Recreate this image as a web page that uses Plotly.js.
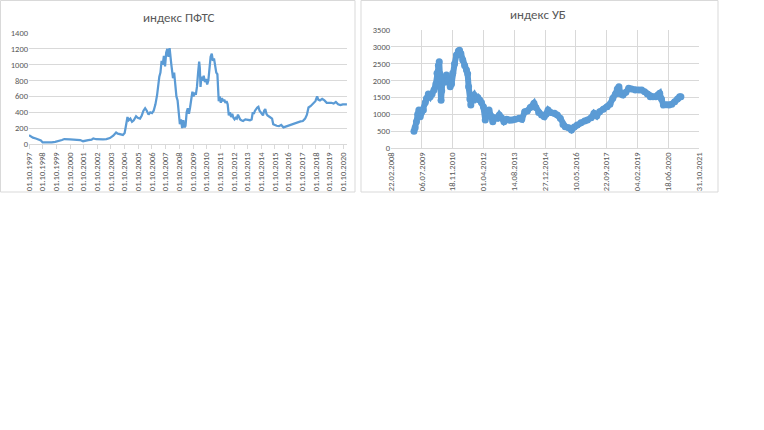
<!DOCTYPE html>
<html>
<head>
<meta charset="utf-8">
<script src="https://cdn.plot.ly/plotly-3.0.1.min.js"></script>
<style>
  html, body { margin: 0; padding: 0; background: #fff; }
  #chart { width: 764px; height: 430px; }
</style>
</head>
<body>
<div id="chart"></div>
<script>
// PFTS index (left panel) -------------------------------------------------------
const pftsDates = [
  '1997-10-01','1997-11-15','1998-01-15','1998-04-01','1998-06-15','1998-08-15','1998-10-01','1998-12-01',
  '1999-03-01','1999-06-01','1999-09-01','1999-12-01','2000-03-01','2000-05-01','2000-07-01','2000-10-01',
  '2001-01-01','2001-04-01','2001-07-01','2001-09-15','2001-11-01','2002-02-01','2002-05-01','2002-06-15',
  '2002-09-01','2002-12-01','2003-03-01','2003-06-01','2003-09-01','2003-12-01','2004-02-15','2004-04-01',
  '2004-06-01','2004-08-15','2004-10-01','2004-11-15','2004-12-15','2005-01-15','2005-03-01','2005-04-15',
  '2005-06-01','2005-08-01','2005-09-15','2005-11-15','2006-01-01','2006-02-15','2006-04-01','2006-05-15',
  '2006-07-01','2006-08-15','2006-10-01','2006-11-15','2007-01-01','2007-02-15','2007-03-15','2007-04-15',
  '2007-05-15','2007-06-15','2007-07-15','2007-08-15','2007-09-15','2007-10-15','2007-11-15','2007-12-15',
  '2008-01-15','2008-02-01','2008-03-01','2008-04-15','2008-05-15','2008-06-15','2008-07-15','2008-08-15',
  '2008-09-15','2008-10-15','2008-11-15','2008-12-15','2009-01-15','2009-02-15','2009-03-15','2009-04-15',
  '2009-05-15','2009-06-15','2009-07-15','2009-08-15','2009-09-15','2009-10-15','2009-11-15','2009-12-15',
  '2010-01-15','2010-02-15','2010-03-15','2010-04-01','2010-04-20','2010-05-15','2010-06-15','2010-07-15',
  '2010-08-15','2010-09-15','2010-10-15','2010-11-15','2010-12-15','2011-01-15','2011-02-15','2011-03-15',
  '2011-04-15','2011-05-15','2011-06-15','2011-07-15','2011-08-01','2011-08-20','2011-09-15','2011-10-15',
  '2011-11-15','2011-12-15','2012-01-15','2012-02-15','2012-03-15','2012-04-15','2012-05-15','2012-06-15',
  '2012-07-15','2012-08-15','2012-09-15','2012-10-15','2012-11-15','2012-12-15','2013-01-15','2013-02-15',
  '2013-03-15','2013-04-15','2013-06-01','2013-08-01','2013-10-01','2013-12-01','2014-01-15','2014-02-15',
  '2014-03-15','2014-04-15','2014-06-15','2014-07-15','2014-08-15','2014-09-15','2014-10-15','2014-11-15',
  '2014-12-15','2015-01-15','2015-02-15','2015-03-15','2015-05-15','2015-07-15','2015-08-15','2015-09-15',
  '2015-11-15','2016-01-15','2016-03-15','2016-05-15','2016-07-15','2016-09-15','2016-11-15','2017-02-15',
  '2017-05-15','2017-08-15','2017-10-15','2017-12-15','2018-02-01','2018-03-15','2018-05-15','2018-07-15',
  '2018-09-15','2018-11-01','2018-12-01','2019-01-15','2019-03-15','2019-05-15','2019-07-15','2019-09-15',
  '2019-11-15','2020-01-15','2020-03-15','2020-05-15','2020-07-15','2020-09-15','2020-11-15','2021-01-05'
];
const pftsValues = [
  110, 95, 80, 70, 55, 45, 20, 18,
  17, 20, 28, 35, 50, 62, 57, 58,
  55, 52, 50, 35, 42, 48, 55, 70,
  60, 55, 58, 62, 75, 105, 145, 130,
  125, 115, 140, 250, 340, 300, 320, 280,
  300, 350, 330, 320, 360, 420, 450, 420,
  370, 400, 390, 420, 500, 620, 750, 850,
  900, 1050, 1000, 1110, 980, 1150, 1200, 1100,
  1210, 1100, 1000, 830, 900, 750, 600, 550,
  400, 250, 310, 200, 300, 210, 230, 400,
  450, 380, 460, 550, 660, 600, 650, 620,
  720, 900, 1040, 960, 720, 850, 800, 860,
  780, 820, 750, 800, 1000, 1100, 1140, 1050,
  1080, 960, 900, 880, 700, 540, 600, 520,
  580, 540, 560, 520, 540, 500, 360, 400,
  340, 380, 330, 310, 330, 320, 370, 330,
  310, 300, 290, 310, 300, 300, 310, 400,
  380, 420, 460, 470, 420, 400, 380, 360,
  420, 440, 380, 360, 340, 320, 250, 240,
  230, 225, 240, 210, 220, 240, 250, 265,
  275, 285, 290, 320, 370, 460, 480, 510,
  540, 600, 560, 550, 570, 550, 520, 520,
  520, 510, 530, 500, 490, 500, 500, 500
];
const pftsTickDates = [
  '1997-10-01','1998-10-01','1999-10-01','2000-10-01','2001-10-01','2002-10-01','2003-10-01','2004-10-01',
  '2005-10-01','2006-10-01','2007-10-01','2008-10-01','2009-10-01','2010-10-01','2011-10-01','2012-10-01',
  '2013-10-01','2014-10-01','2015-10-01','2016-10-01','2017-10-01','2018-10-01','2019-10-01','2020-10-01'
];
const pftsTickLabels = [
  '01.10.1997','01.10.1998','01.10.1999','01.10.2000','01.10.2001','01.10.2002','01.10.2003','01.10.2004',
  '01.10.2005','01.10.2006','01.10.2007','01.10.2008','01.10.2009','01.10.2010','01.10.2011','01.10.2012',
  '01.10.2013','01.10.2014','01.10.2015','01.10.2016','01.10.2017','01.10.2018','01.10.2019','01.10.2020'
];

// UB index (right panel) --------------------------------------------------------
const ubDates = [
  '2009-03-01','2009-03-20','2009-04-10','2009-05-01','2009-05-20','2009-06-10','2009-07-01','2009-08-01',
  '2009-09-01','2009-09-20','2009-10-20','2009-11-20','2009-12-20','2010-01-20','2010-02-20','2010-03-10',
  '2010-04-01','2010-04-15','2010-04-25','2010-05-05','2010-05-15','2010-05-25','2010-06-10','2010-07-10',
  '2010-08-10','2010-09-10','2010-10-10','2010-11-01','2010-11-20','2010-12-20','2011-01-20','2011-02-20',
  '2011-03-10','2011-04-01','2011-05-01','2011-06-01','2011-07-01','2011-07-20','2011-08-05','2011-08-25',
  '2011-09-10','2011-10-01','2011-11-01','2011-12-01','2012-01-01','2012-02-01','2012-03-01','2012-04-01',
  '2012-05-01','2012-06-01','2012-07-01','2012-08-01','2012-09-01','2012-10-01','2012-11-15','2012-12-15',
  '2013-01-20','2013-03-01','2013-04-15','2013-06-01','2013-07-15','2013-09-01','2013-11-01','2013-12-15',
  '2014-02-01','2014-03-15','2014-05-01','2014-07-01','2014-08-01','2014-09-15','2014-11-01','2014-12-15',
  '2015-01-15','2015-02-15','2015-04-01','2015-06-01','2015-07-15','2015-09-01','2015-10-15','2015-11-20',
  '2016-01-15','2016-03-01','2016-04-15','2016-06-01','2016-08-01','2016-10-01','2016-11-15','2017-01-15',
  '2017-03-01','2017-04-15','2017-06-01','2017-08-01','2017-10-01','2017-11-15','2018-01-01','2018-02-15',
  '2018-03-15','2018-04-10','2018-05-10','2018-06-15','2018-08-01','2018-09-15','2018-11-01','2019-01-01',
  '2019-03-01','2019-04-15','2019-06-01','2019-07-15','2019-09-01','2019-10-15','2019-12-01','2020-01-01',
  '2020-02-01','2020-03-01','2020-04-01','2020-05-15','2020-07-01','2020-08-15','2020-10-01','2020-11-15',
  '2020-12-20','2021-01-10'
];
const ubValues = [
  500, 600, 780, 1000, 1130, 930, 1050, 1130,
  1350, 1470, 1600, 1520, 1600, 1720, 1900, 2215,
  2450, 2560, 2200, 1800, 1420, 1700, 2070, 1950,
  2165, 2000, 1820, 1900, 2215, 2500, 2760, 2880,
  2900, 2800, 2610, 2450, 2313, 2200, 1818, 1450,
  1275, 1500, 1572, 1450, 1500, 1424, 1350, 1226,
  830, 1050, 1127, 950, 780, 900, 880, 979,
  900, 780, 850, 820, 830, 850, 880, 850,
  1077, 1100, 1200, 1325, 1200, 1050, 980, 930,
  1000, 1127, 1050, 1030, 980, 880, 700, 633,
  600, 534, 620, 682, 750, 800, 830, 900,
  1028, 950, 1077, 1150, 1226, 1300, 1474, 1600,
  1750, 1818, 1600, 1572, 1650, 1770, 1750, 1720,
  1720, 1720, 1670, 1600, 1522, 1520, 1522, 1570,
  1622, 1450, 1275, 1280, 1275, 1300, 1374, 1450,
  1522, 1520
];
const ubTickDates = [
  '2008-02-22','2009-07-06','2010-11-18','2012-04-01','2013-08-14','2014-12-27',
  '2016-05-10','2017-09-22','2019-02-04','2020-06-18','2021-10-31'
];
const ubTickLabels = [
  '22.02.2008','06.07.2009','18.11.2010','01.04.2012','14.08.2013','27.12.2014',
  '10.05.2016','22.09.2017','04.02.2019','18.06.2020','31.10.2021'
];

const W = 764, H = 430;
const px = x => x / W;
const py = y => 1 - y / H;
const blue = '#5b9bd5';
const grid = '#d9d9d9';
const txt = '#595959';
const font = 'Calibri, Carlito, "Liberation Sans", "Open Sans", sans-serif';
const tickFont = { family: font, size: 8.5, color: txt };

const traces = [
  { type: 'scatter', mode: 'lines', x: pftsDates, y: pftsValues, xaxis: 'x', yaxis: 'y',
    line: { color: blue, width: 2.25 }, hoverinfo: 'x+y' },
  { type: 'scatter', mode: 'lines+markers', x: ubDates, y: ubValues, xaxis: 'x2', yaxis: 'y2',
    line: { color: blue, width: 6 }, marker: { color: blue, size: 7 }, hoverinfo: 'x+y' },
];

const layout = {
  width: W, height: H,
  margin: { l: 0, r: 0, t: 0, b: 0 },
  paper_bgcolor: '#fff', plot_bgcolor: 'rgba(0,0,0,0)',
  showlegend: false,
  font: { family: font, color: txt },
  xaxis: {
    type: 'date', domain: [px(29), px(347)], anchor: 'y',
    range: ['1997-10-01', '2021-01-07'],
    tickmode: 'array', tickvals: pftsTickDates, ticktext: pftsTickLabels,
    tickangle: -90, tickfont: tickFont,
    showgrid: false, zeroline: false,
    showline: true, linecolor: grid, linewidth: 1,
    ticks: 'outside', ticklen: 4, tickcolor: grid,
  },
  yaxis: {
    domain: [py(144), py(33)], anchor: 'x',
    range: [0, 1400], dtick: 200, tickfont: tickFont,
    gridcolor: grid, gridwidth: 1, zeroline: false, showline: false,
  },
  xaxis2: {
    type: 'date', domain: [px(391), px(699)], anchor: 'y2',
    range: ['2008-02-22', '2021-10-31'],
    tickmode: 'array', tickvals: ubTickDates, ticktext: ubTickLabels,
    tickangle: -90, tickfont: tickFont,
    showgrid: true, gridcolor: grid, gridwidth: 1, zeroline: false,
    showline: true, linecolor: grid, linewidth: 1,
  },
  yaxis2: {
    domain: [py(148), py(30)], anchor: 'x2',
    range: [0, 3500], dtick: 500, tickfont: tickFont,
    gridcolor: grid, gridwidth: 1, zeroline: false, showline: false,
  },
  annotations: [
    { text: 'индекс ПФТС', xref: 'paper', yref: 'paper', x: px(178), y: py(17),
      xanchor: 'center', yanchor: 'middle',
      showarrow: false, font: { family: font, size: 13, color: txt } },
    { text: 'индекс УБ', xref: 'paper', yref: 'paper', x: px(538), y: py(14),
      xanchor: 'center', yanchor: 'middle',
      showarrow: false, font: { family: font, size: 13, color: txt } },
  ],
  shapes: [
    { type: 'rect', xref: 'paper', yref: 'paper', x0: px(0.5), x1: px(355), y0: py(192), y1: py(0.5),
      line: { color: grid, width: 1 } },
    { type: 'rect', xref: 'paper', yref: 'paper', x0: px(361), x1: px(718), y0: py(192), y1: py(0.5),
      line: { color: grid, width: 1 } },
  ],
};

Plotly.newPlot('chart', traces, layout, { displayModeBar: false, staticPlot: true });
</script>
</body>
</html>
